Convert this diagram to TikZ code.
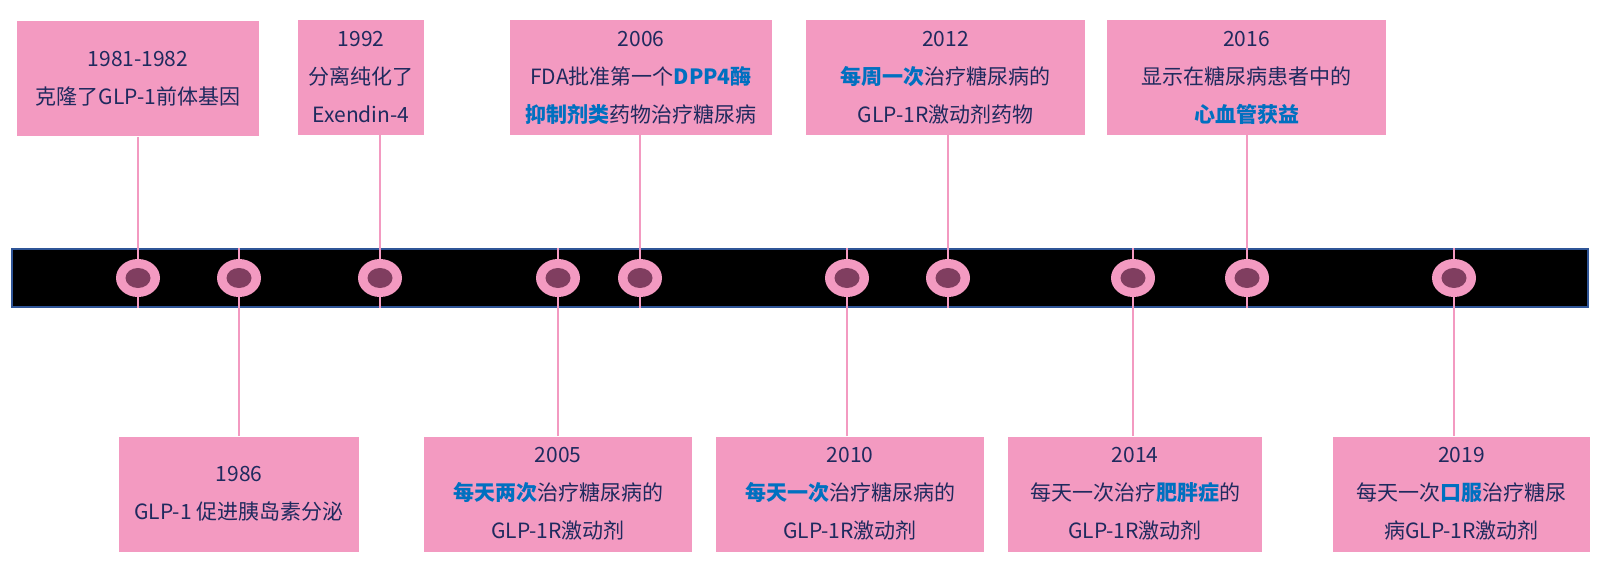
\documentclass[tikz,border=0pt]{standalone}
\usepackage{fontspec}
\setmainfont{Noto Sans CJK SC}
\usetikzlibrary{shapes.geometric}
\definecolor{cardpink}{RGB}{243,154,193}
\definecolor{inkblue}{RGB}{31,42,94}
\definecolor{hlblue}{RGB}{0,112,192}
\definecolor{dotpurple}{RGB}{128,62,96}
\definecolor{barline}{RGB}{47,85,151}
\newcommand{\hl}[1]{\textcolor{hlblue}{\textbf{#1}}}

\begin{document}
\begin{tikzpicture}[
    x=0.5pt, y=-0.5pt,
    every node/.style={font=\fontsize{10.5}{19}\selectfont, text=inkblue},
    card/.style={rectangle, fill=cardpink, align=center, inner sep=0pt, minimum height=57.5pt},
    stem/.style={draw=cardpink, line width=1pt},
    % marker on the bar
    dot/.style={ellipse, fill=cardpink, minimum width=22pt, minimum height=19pt, inner sep=0pt},
    dotin/.style={ellipse, fill=dotpurple, minimum width=12.5pt, minimum height=10pt, inner sep=0pt}
]
\useasboundingbox (0,0) rectangle (1600,567);

% Timeline bar
\node[rectangle, fill=black, draw=barline, line width=0.7pt, minimum width=788pt, minimum height=29pt, inner sep=0pt] (bar) at (800,278) {};

% Cards above the bar
\node[card, minimum width=121pt] (c1981) at (138,79) {1981-1982\\克隆了GLP-1前体基因};
\node[card, minimum width=63pt] (c1992) at (361,77.5) {1992\\分离纯化了\\Exendin-4};
\node[card, minimum width=131pt] (c2006) at (641,77.5) {2006\\FDA批准第一个\hl{DPP4酶}\\\hl{抑制剂类}药物治疗糖尿病};
\node[card, minimum width=139.5pt] (c2012) at (945.5,77.5) {2012\\\hl{每周一次}治疗糖尿病的\\GLP-1R激动剂药物};
\node[card, minimum width=139.5pt] (c2016) at (1246.5,77.5) {2016\\显示在糖尿病患者中的\\\hl{心血管获益}};

% Cards below the bar
\node[card, minimum width=120pt] (c1986) at (239,494) {1986\\GLP-1 促进胰岛素分泌};
\node[card, minimum width=134pt] (c2005) at (558,494) {2005\\\hl{每天两次}治疗糖尿病的\\GLP-1R激动剂};
\node[card, minimum width=134pt] (c2010) at (850,494) {2010\\\hl{每天一次}治疗糖尿病的\\GLP-1R激动剂};
\node[card, minimum width=127pt] (c2014) at (1135,494) {2014\\每天一次治疗\hl{肥胖症}的\\GLP-1R激动剂};
\node[card, minimum width=128.5pt] (c2019) at (1461.5,494) {2019\\每天一次\hl{口服}治疗糖尿\\病GLP-1R激动剂};

% Marker positions
\foreach \x [count=\i] in {138,239,380,558,640,847,948,1133,1247,1454}
    \coordinate (m\i) at (\x,278);

% Stems
\foreach \m/\c in {1/c1981, 3/c1992, 5/c2006, 7/c2012, 9/c2016}
    \draw[stem] (m\m |- \c.south) -- (m\m |- bar.south);
\foreach \m/\c in {2/c1986, 4/c2005, 6/c2010, 8/c2014, 10/c2019}
    \draw[stem] (m\m |- \c.north) -- (m\m |- bar.north);

% Markers
\foreach \i in {1,...,10} {
    \node[dot] (d\i) at (m\i) {};
    \node[dotin] at (d\i) {};
}

\end{tikzpicture}
\end{document}
